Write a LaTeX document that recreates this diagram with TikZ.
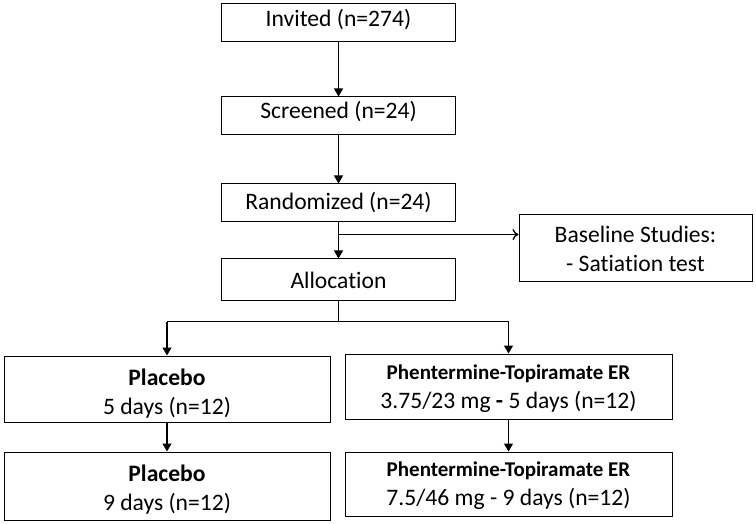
\documentclass[tikz,border=0pt]{standalone}
\usepackage{fontspec}
\setmainfont{Carlito}[Ligatures=CommonOff]
\usetikzlibrary{arrows.meta}

\newcommand{\lift}[1]{\rule{0pt}{#1}}

\begin{document}
\begin{tikzpicture}[x=1pt,y=-1pt,line width=1.3pt]
    \tikzset{
        box/.style={
            draw,
            line width=1pt,
            align=center,
            inner sep=0pt,
            minimum width=#1,
            font=\fontsize{23.6}{29}\selectfont
        },
        base/.style={
            text height=#1,
            text depth=0pt
        },
        flow/.style={
            -{Triangle[length=8pt,width=9pt]}
        },
        side/.style={
            -{To[length=6pt,width=11pt,line width=1.3pt]}
        }
    }
    \useasboundingbox (0,0) rectangle (756,524);

    \node[box=234pt, minimum height=38pt, base=7.4pt] (invited) at (338.5,23) {Invited (n=274)};
    \node[box=234pt, minimum height=38pt, base=6pt] (screened) at (338.5,116) {Screened (n=24)};
    \node[box=234pt, minimum height=38pt, base=13pt] (randomized) at (338.5,203) {Randomized (n=24)};
    \node[box=234pt, minimum height=41pt, base=17pt] (allocation) at (338.5,279.5) {Allocation};
    \node[box=233pt, minimum height=67pt] (baseline) at (635.5,248.5)
        {\fontsize{23.6}{28.4}\selectfont\lift{18pt}Baseline Studies:\\- Satiation test};

    \node[box=326pt, minimum height=66pt] (placebo1) at (167,389)
        {\fontsize{23.6}{34}\selectfont\lift{26pt}\textbf{Placebo}\\5 days (n=12)};
    \node[box=327pt, minimum height=65pt] (pt1) at (508.5,386.5)
        {\fontsize{23.6}{28.7}\selectfont\lift{18.2pt}{\fontsize{21}{24}\selectfont\textbf{Phentermine-Topiramate ER}}\\3.75/23 mg \textbf{-} 5 days (n=12)};
    \node[box=326pt, minimum height=68pt] (placebo2) at (167,486)
        {\fontsize{23.6}{30.7}\selectfont\lift{23.2pt}\textbf{Placebo}\\9 days (n=12)};
    \node[box=327pt, minimum height=64pt] (pt2) at (508.5,484)
        {\fontsize{23.6}{30.7}\selectfont\lift{17.2pt}{\fontsize{21}{24}\selectfont\textbf{Phentermine-Topiramate ER}}\\7.5/46 mg - 9 days (n=12)};

    \coordinate (rsplit) at ([yshift=-12pt] randomized.south);
    \coordinate (asplit) at ([yshift=-21pt] allocation.south);
    \coordinate (aleft) at (asplit -| placebo1.north);
    \coordinate (aright) at (asplit -| pt1.north);

    \draw[flow] (invited) -- (screened);
    \draw[flow] (screened) -- (randomized);
    \draw[flow] (randomized) -- (allocation);
    \draw[side] (rsplit) -- (rsplit -| baseline.west);
    \draw (allocation) -- (asplit);
    \draw (aleft) -- (aright);
    \draw[flow] (aleft) -- (placebo1);
    \draw[flow] (aright) -- (pt1);
    \draw[flow] (placebo1) -- (placebo2);
    \draw[flow] (pt1) -- (pt2);
\end{tikzpicture}
\end{document}
